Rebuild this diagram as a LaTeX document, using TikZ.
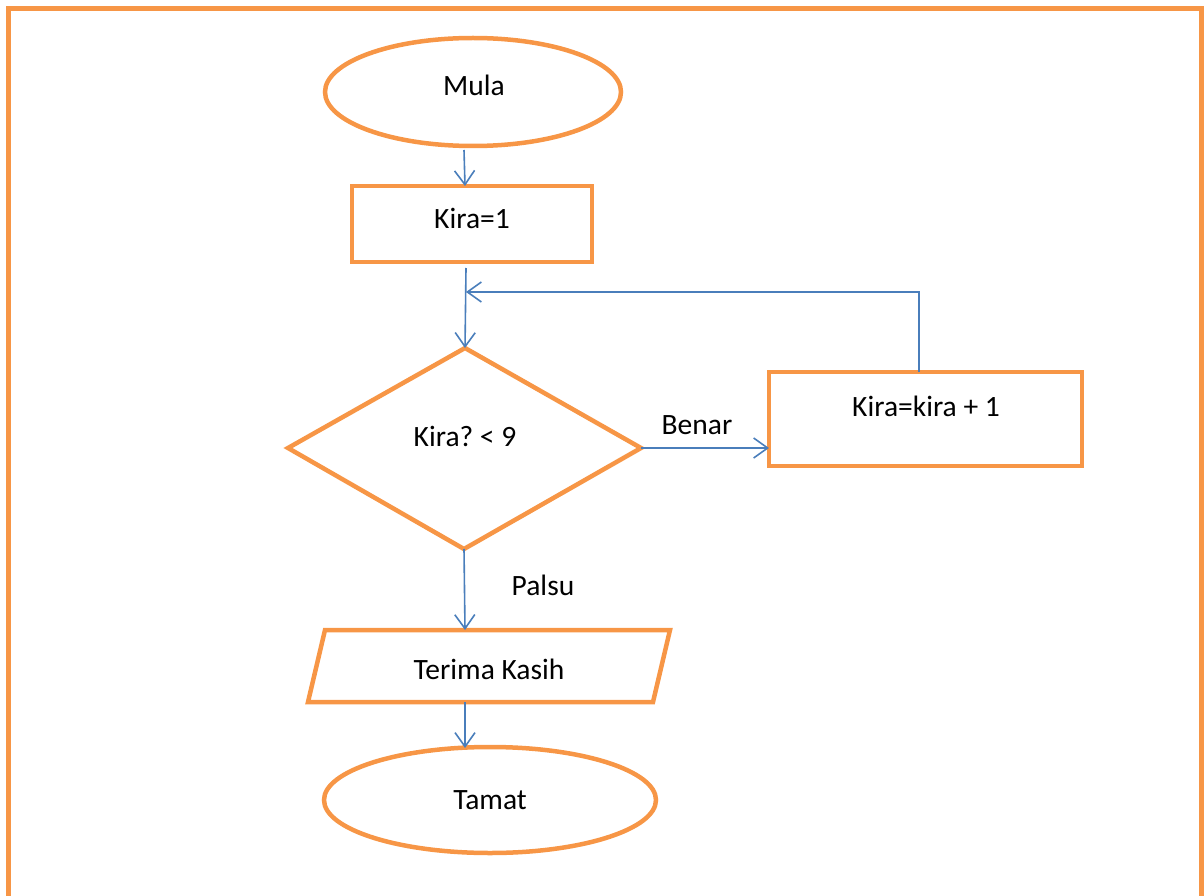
\documentclass[tikz,border=0pt]{standalone}
\usepackage{fontspec}
\setmainfont{Carlito}
\frenchspacing
\usetikzlibrary{arrows.meta,shapes.geometric}
\definecolor{orng}{HTML}{F79646}
\definecolor{conn}{HTML}{4A7EBB}
\begin{document}
\begin{tikzpicture}[x=1pt,y=-1pt,
  shp/.style={draw=orng,line width=4.5pt},
  lbl/.style={font=\fontsize{29.5}{33}\selectfont,inner sep=0pt},
  flow/.style={draw=conn,line width=1.6pt,-{Straight Barb[length=14pt,width=20pt,line width=1.6pt]}},
  plain/.style={draw=conn,line width=1.6pt}]
\useasboundingbox (0,0) rectangle (1204,896);
\begin{scope}
\clip (0,0) rectangle (1204,896);
\draw[orng,line width=5pt] (8,910) -- (8,9) -- (1201,9) -- (1201,910);
\end{scope}
% shapes
\draw[shp] (473,92) ellipse [x radius=148, y radius=54];
\node[lbl] (mula) at (474,85) {Mula};
\coordinate (mulab) at (464,150);
\draw[shp] (352,186) rectangle (592,262);
\node[lbl] (kira1) at (472,218) {Kira=1};
\coordinate (k1t) at (465,186);
\coordinate (k1b) at (466,268);
\draw[shp] (465,348) -- (641,448) -- (464,549) -- (288,448) -- cycle;
\node[lbl] (cond) at (465,436) {Kira?\ < 9};
\coordinate (dt) at (465,348);
\coordinate (dr) at (641,448);
\coordinate (db) at (464,549);
\draw[shp] (769,372) rectangle (1082,466);
\node[lbl] (inc) at (926,406) {Kira=kira + 1};
\coordinate (incl) at (769,448);
\coordinate (inct) at (919,372);
\coordinate (loopc) at (919,292);
\coordinate (loopj) at (466,292);
\draw[shp] (325,630) -- (670,630) -- (653,702) -- (308,702) -- cycle;
\node[lbl] (terima) at (489,669) {Terima Kasih};
\coordinate (tt) at (465,630);
\coordinate (tb) at (465,702);
\draw[shp] (490,800) ellipse [x radius=166, y radius=53];
\node[lbl] (tamat) at (490,800) {Tamat};
\coordinate (tamt) at (465,748);
% labels
\node[lbl] (benar) at (697,425) {Benar};
\node[lbl] (palsu) at (543,585) {Palsu};
% connectors
\draw[flow] (mulab) -- (k1t);
\draw[flow] (k1b) -- (dt);
\draw[flow] (inct) -- (loopc) -- (loopj);
\draw[flow] (dr) -- (incl);
\draw[flow] (db) -- (tt);
\draw[flow] (tb) -- (tamt);
\end{tikzpicture}
\end{document}
